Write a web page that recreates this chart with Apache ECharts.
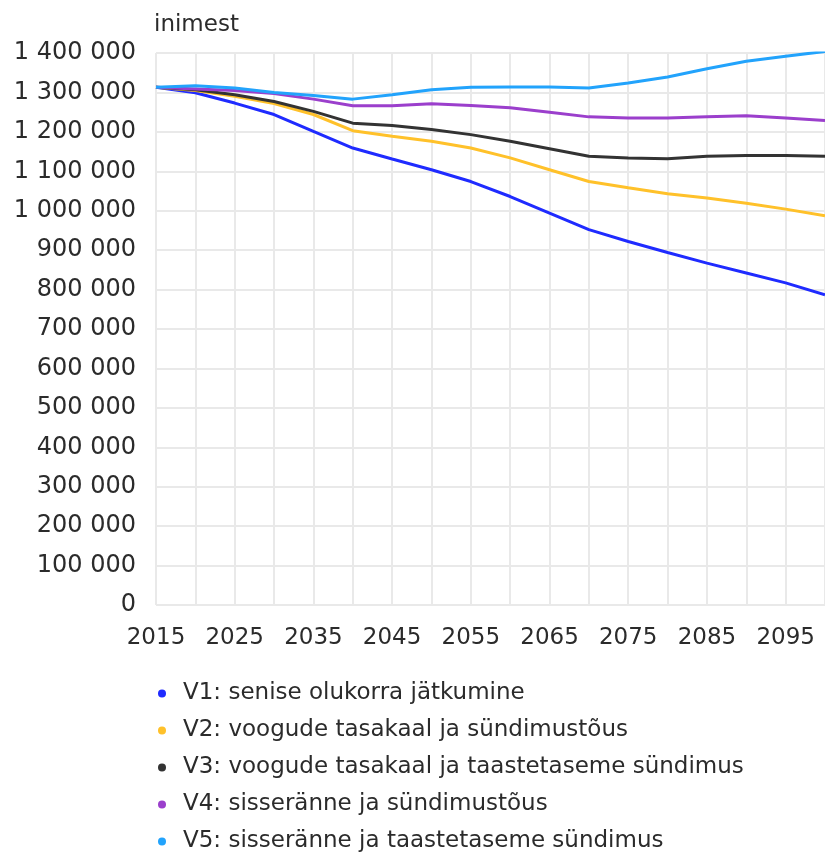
<!DOCTYPE html>
<html>
<head>
<meta charset="utf-8">
<script src="https://cdn.jsdelivr.net/npm/echarts@6/dist/echarts.min.js"></script>
<style>
html,body{margin:0;padding:0;background:#fff;}
#chart{width:825px;height:852px;}
</style>
</head>
<body>
<div id="chart"></div>
<script>
const years = ['2015','2020','2025','2030','2035','2040','2045','2050','2055','2060','2065','2070','2075','2080','2085','2090','2095','2100'];
const yTickLabels = {0:'0',100000:'100 000',200000:'200 000',300000:'300 000',400000:'400 000',500000:'500 000',600000:'600 000',700000:'700 000',800000:'800 000',900000:'900 000',1000000:'1 000 000',1100000:'1 100 000',1200000:'1 200 000',1300000:'1 300 000',1400000:'1 400 000'};
const seriesNames = [
  'V1: senise olukorra jätkumine',
  'V2: voogude tasakaal ja sündimustõus',
  'V3: voogude tasakaal ja taastetaseme sündimus',
  'V4: sisseränne ja sündimustõus',
  'V5: sisseränne ja taastetaseme sündimus'
];
const v1 = [1313000,1299000,1273000,1244000,1201000,1159000,1131000,1104000,1074000,1036000,994000,952000,922000,894000,867000,842000,817000,787000];
const v2 = [1313000,1305000,1290000,1272000,1244000,1203000,1189000,1176000,1159000,1134000,1104000,1074000,1058000,1043000,1032000,1019000,1004000,987000];
const v3 = [1313000,1307000,1294000,1277000,1252000,1222000,1216000,1206000,1193000,1176000,1157000,1138000,1134000,1132000,1138000,1140000,1140000,1138000];
const v4 = [1313000,1309000,1305000,1297000,1283000,1266000,1266000,1271000,1267000,1261000,1250000,1238000,1235000,1235000,1238000,1241000,1235000,1229000];
const v5 = [1313000,1317000,1311000,1300000,1292000,1283000,1294000,1307000,1313000,1314000,1314000,1311000,1324000,1339000,1360000,1379000,1392000,1404000];
const colors = ['#1f2bff','#ffc12a','#333333','#9b3fcc','#22a3fc'];
const values = [v1,v2,v3,v4,v5];

const chart = echarts.init(document.getElementById('chart'));
const font = 'DejaVu Sans';
chart.setOption({
  animation:false,
  backgroundColor:'#fff',
  grid:{left:156,right:-1,top:53,bottom:247,containLabel:false},
  xAxis:{
    type:'category',data:years,boundaryGap:false,
    axisLine:{show:false},axisTick:{show:false},
    axisLabel:{interval:1,color:'#2b2b2b',fontFamily:font,fontSize:23,margin:22},
    splitLine:{show:true,interval:0,lineStyle:{color:'#e9e9e9',width:2}}
  },
  yAxis:{
    type:'value',min:0,max:1400000,interval:100000,
    name:'inimest',nameLocation:'end',nameGap:16,
    nameTextStyle:{align:'left',verticalAlign:'bottom',color:'#2b2b2b',fontFamily:font,fontSize:23,padding:[0,0,0,-2]},
    axisLine:{show:false},axisTick:{show:false},
    axisLabel:{color:'#2b2b2b',fontFamily:font,fontSize:24,margin:20,formatter:v=>yTickLabels[v]},
    splitLine:{lineStyle:{color:'#e9e9e9',width:2}}
  },
  legend:{
    orient:'vertical',left:153,top:677,height:200,icon:'circle',itemWidth:32,itemHeight:8,itemGap:14,
    textStyle:{color:'#2b2b2b',fontFamily:font,fontSize:23},
    data:seriesNames
  },
  series:values.map((d,i)=>({
    name:seriesNames[i],type:'line',data:d,symbol:'none',
    lineStyle:{width:3,color:colors[i]},itemStyle:{color:colors[i]}
  }))
});
</script>
</body>
</html>
